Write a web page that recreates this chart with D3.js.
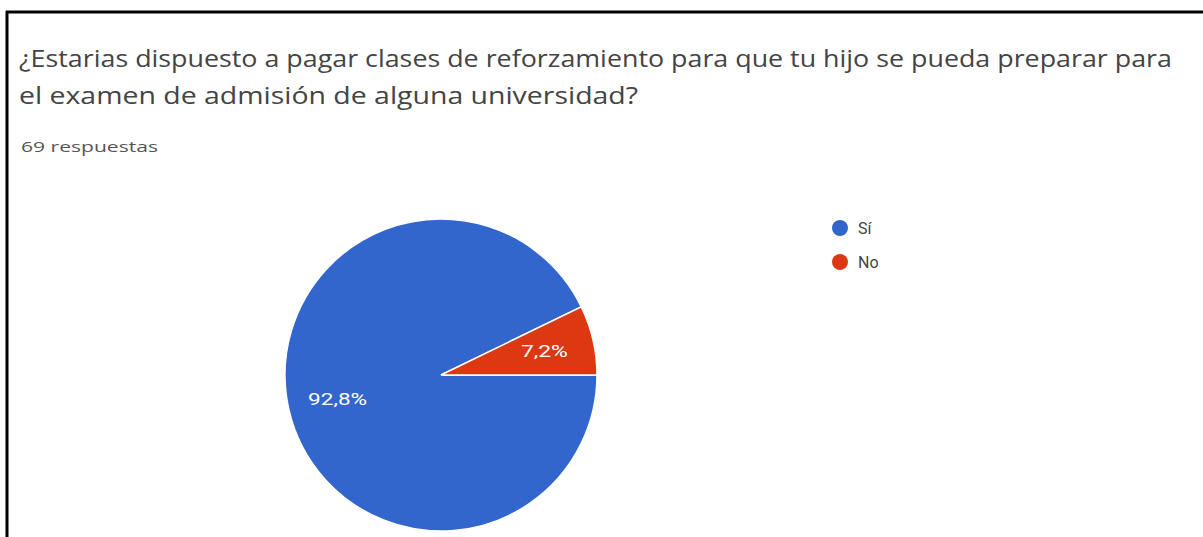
<!DOCTYPE html>
<html>
<head>
<meta charset="utf-8">
<script src="https://cdn.jsdelivr.net/npm/d3@7"></script>
<style>
  html, body { margin: 0; padding: 0; background: #fff; }
  svg { display: block; }
</style>
</head>
<body>
<svg id="chart" width="1203" height="537"></svg>
<script>
// Survey answers and their shares (percent)
const categories = ["Sí", "No"];
const values = [92.8, 7.2];
const labels = ["92,8%", "7,2%"];
const colors = ["#3366cc", "#dc3912"];

const titleLines = [
  "¿Estarias dispuesto a pagar clases de reforzamiento para que tu hijo se pueda preparar para",
  "el examen de admisión de alguna universidad?"
];
const titleWidths = [1153, 619];
const subtitle = "69 respuestas";

const svg = d3.select("#chart");
const font = "Roboto, 'Noto Sans', sans-serif";
const headFont = "'Open Sans', Roboto, sans-serif";

// Frame lines (top and left)
svg.append("line").attr("x1", 6).attr("x2", 1203).attr("y1", 12).attr("y2", 12)
  .attr("stroke", "#000").attr("stroke-width", 3);
svg.append("line").attr("x1", 7).attr("x2", 7).attr("y1", 11).attr("y2", 537)
  .attr("stroke", "#000").attr("stroke-width", 3);

// Title
svg.selectAll("text.title").data(titleLines).join("text")
  .attr("class", "title")
  .attr("x", 19)
  .attr("y", (d, i) => 67 + i * 37)
  .attr("font-family", headFont)
  .attr("font-size", 23)
  .attr("fill", "#444")
  .attr("textLength", (d, i) => titleWidths[i])
  .attr("lengthAdjust", "spacingAndGlyphs")
  .text(d => d);

svg.append("text")
  .attr("x", 21).attr("y", 152)
  .attr("font-family", headFont)
  .attr("font-size", 15)
  .attr("fill", "#555")
  .attr("textLength", 137)
  .attr("lengthAdjust", "spacingAndGlyphs")
  .text(subtitle);

// Pie: starts at 3 o'clock, runs clockwise
const data = categories.map((c, i) => ({ cat: c, value: values[i], label: labels[i], color: colors[i] }));
const cx = 441, cy = 375, r = 156;
const pie = d3.pie().value(d => d.value).sort(null)
  .startAngle(Math.PI / 2).endAngle(Math.PI / 2 + 2 * Math.PI);
const arcs = pie(data);
const arc = d3.arc().innerRadius(0).outerRadius(r);

const g = svg.append("g").attr("transform", `translate(${cx},${cy})`);
g.selectAll("path").data(arcs).join("path")
  .attr("d", arc)
  .attr("fill", d => d.data.color)
  .attr("stroke", "#fff")
  .attr("stroke-width", 1.5);

// Percentage labels inside slices
const labelWidths = [59, 47];
const labelArc = d3.arc().innerRadius(r * 0.68).outerRadius(r * 0.68);
g.selectAll("text").data(arcs).join("text")
  .attr("transform", d => {
    const [x, y] = labelArc.centroid(d);
    return `translate(${x},${y})`;
  })
  .attr("text-anchor", "middle")
  .attr("dy", "0.35em")
  .attr("font-family", font)
  .attr("font-size", 17)
  .attr("fill", "#fff")
  .attr("textLength", (d, i) => labelWidths[i])
  .attr("lengthAdjust", "spacingAndGlyphs")
  .text(d => d.data.label);

// Legend
const legend = svg.append("g").attr("transform", "translate(840,228)");
const item = legend.selectAll("g").data(data).join("g")
  .attr("transform", (d, i) => `translate(0,${i * 34})`);
item.append("circle").attr("r", 8).attr("fill", d => d.color);
item.append("text")
  .attr("x", 18).attr("dy", "0.36em")
  .attr("font-family", font)
  .attr("font-size", 16)
  .attr("fill", "#444")
  .text(d => d.cat);
</script>
</body>
</html>
